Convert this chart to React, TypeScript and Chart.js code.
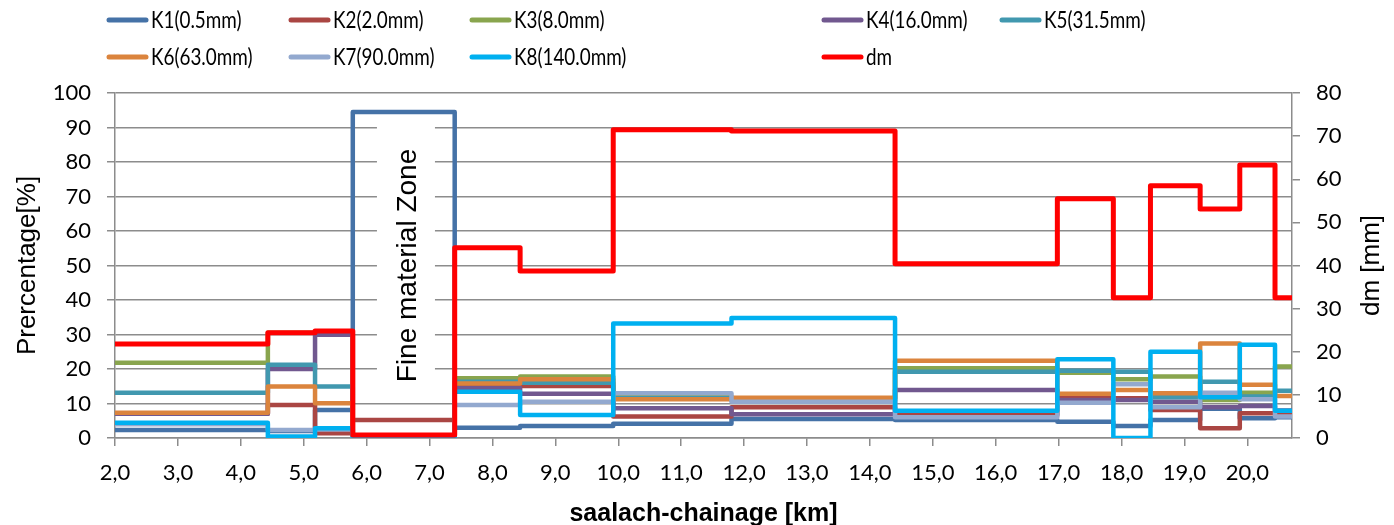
import React, { useEffect, useRef } from "react";
import { Chart, registerables } from "chart.js";

Chart.register(...registerables);

// segment start positions along the river [km]; the last entry is the end of the chart
const breaks = [2.0, 4.43, 5.18, 5.78, 7.4, 8.44, 9.92, 11.8, 14.4, 16.98, 17.87, 18.46, 19.25, 19.88, 20.44, 20.71];

const k1 = [2.3, 2.0, 8.1, 94.5, 3.0, 3.5, 4.1, 5.5, 5.2, 4.7, 3.5, 5.2, 8.5, 5.7, 6.0];
const k2 = [7.0, 9.6, 1.4, 5.2, 15.1, 15.1, 6.2, 8.9, 6.7, 11.5, 11.5, 8.1, 2.8, 7.2, 7.2];
const k3 = [21.8, 30.5, 30.3, 0, 17.3, 17.8, 12.0, 11.4, 20.2, 18.9, 17.0, 17.8, 11.0, 13.1, 20.7];
const k4 = [7.0, 20.0, 29.9, 0, 14.5, 12.8, 8.6, 6.9, 13.9, 11.0, 11.0, 10.5, 8.9, 9.3, 8.0];
const k5 = [13.1, 21.2, 14.9, 0, 16.3, 16.0, 11.5, 10.8, 19.2, 19.5, 19.2, 11.8, 16.3, 12.0, 13.7];
const k6 = [7.3, 14.9, 10.1, 0, 15.8, 17.0, 11.2, 11.7, 22.4, 12.8, 13.9, 13.0, 27.4, 15.4, 12.2];
const k7 = [4.0, 2.3, 2.5, 0, 9.6, 10.5, 13.0, 10.5, 6.0, 10.2, 15.6, 8.9, 13.1, 11.2, 6.2];
const k8 = [4.4, 0.4, 2.8, 0, 13.4, 6.7, 33.2, 34.8, 7.9, 22.8, 0, 25.0, 11.8, 27.0, 7.9];
const dm = [21.8, 24.4, 24.8, 0.7, 44.1, 38.7, 71.5, 71.2, 40.4, 55.5, 32.5, 58.5, 53.1, 63.3, 32.5];

const seriesNames = ["K1(0.5mm)", "K2(2.0mm)", "K3(8.0mm)", "K4(16.0mm)", "K5(31.5mm)", "K6(63.0mm)", "K7(90.0mm)", "K8(140.0mm)", "dm"];
const seriesValues = [k1, k2, k3, k4, k5, k6, k7, k8, dm];
const seriesColors = ["#4572A7", "#AA4643", "#89A54E", "#71588F", "#4198AF", "#DB843D", "#93A9CF", "#00B0F0", "#FF0000"];

const xMin = 2.0;
const xMax = 20.71;
const xTickValues = [2, 3, 4, 5, 6, 7, 8, 9, 10, 11, 12, 13, 14, 15, 16, 17, 18, 19, 20];
const leftMax = 100;
const rightMax = 80;

const xTitle = "saalach-chainage [km]";
const yTitle = "Prercentage[%]";
const y1Title = "dm [mm]";
const zoneLabel = "Fine material Zone";

const tickFont = "Lato, 'Noto Sans', sans-serif";
const titleFont = "'Liberation Sans', Arial, sans-serif";
const gridColor = "#8c8c8c";

function toPoints(vals: number[]) {
  const pts = vals.map((v, i) => ({ x: breaks[i], y: v }));
  pts.push({ x: breaks[breaks.length - 1], y: vals[vals.length - 1] });
  return pts;
}

const decorPlugin = {
  id: "decor",
  beforeDatasetsDraw(chart: any) {
    const { ctx, scales } = chart;
    const x = scales.x;
    const y = scales.y;
    const cx = (x.getPixelForValue(6.3) + x.getPixelForValue(6.95)) / 2;
    const top = y.getPixelForValue(92);
    const bottom = y.getPixelForValue(14);
    ctx.save();
    ctx.fillStyle = "#ffffff";
    ctx.fillRect(cx - 29, top, 58, bottom - top);
    ctx.translate(cx + 2, (y.getPixelForValue(100) + y.getPixelForValue(0)) / 2);
    ctx.rotate(-Math.PI / 2);
    ctx.fillStyle = "#000000";
    ctx.font = `28px ${titleFont}`;
    ctx.textAlign = "center";
    ctx.textBaseline = "middle";
    ctx.fillText(zoneLabel, 0, 0);
    ctx.restore();
  },
  afterDraw(chart: any) {
    const { ctx, chartArea } = chart;
    const midY = (chartArea.top + chartArea.bottom) / 2;
    ctx.save();
    ctx.fillStyle = "#000000";
    ctx.textBaseline = "middle";
    ctx.textAlign = "center";
    // axis titles
    ctx.font = `26px ${titleFont}`;
    ctx.save();
    ctx.translate(28, midY);
    ctx.rotate(-Math.PI / 2);
    ctx.fillText(yTitle, 0, 0);
    ctx.restore();
    ctx.save();
    ctx.translate(1372, midY);
    ctx.rotate(-Math.PI / 2);
    ctx.fillText(y1Title, 0, 0);
    ctx.restore();
    ctx.font = `bold 25px ${titleFont}`;
    ctx.fillText(xTitle, (chartArea.left + chartArea.right) / 2, 514);

    // legend
    const cols = [107, 289, 470, 822, 1000];
    const rows = [20, 57];
    ctx.textAlign = "left";
    ctx.font = `23px ${tickFont}`;
    seriesNames.forEach((name, i) => {
      const r = i < 5 ? 0 : 1;
      const c = i < 5 ? i : i - 5;
      const lx = cols[c];
      const ly = rows[r];
      ctx.strokeStyle = seriesColors[i];
      ctx.lineWidth = 5;
      ctx.lineCap = "round";
      ctx.beginPath();
      ctx.moveTo(lx + 2, ly);
      ctx.lineTo(lx + 39, ly);
      ctx.stroke();
      ctx.save();
      ctx.translate(lx + 44, ly + 1);
      ctx.scale(0.82, 1);
      ctx.fillText(name, 0, 0);
      ctx.restore();
    });
    ctx.restore();
  },
};

export default function App() {
  const ref = useRef<HTMLCanvasElement | null>(null);

  useEffect(() => {
    if (!ref.current) return;
    const datasets = seriesValues.map((vals, i) => ({
      label: seriesNames[i],
      data: toPoints(vals),
      borderColor: seriesColors[i],
      backgroundColor: seriesColors[i],
      borderWidth: i === 8 ? 5 : 4.5,
      pointRadius: 0,
      stepped: "before" as const,
      fill: false,
      borderJoinStyle: "round" as const,
      yAxisID: i === 8 ? "y1" : "y",
      order: 20 - i,
    }));

    const chart = new Chart(ref.current, {
      type: "line",
      data: { datasets },
      plugins: [decorPlugin],
      options: {
        animation: false,
        responsive: false,
        layout: { padding: { top: 93, left: 0, right: 0, bottom: 0 } },
        plugins: { legend: { display: false }, tooltip: { enabled: false } },
        scales: {
          x: {
            type: "linear",
            min: xMin,
            max: xMax,
            afterBuildTicks: (s: any) => {
              s.ticks = xTickValues.map((v) => ({ value: v }));
            },
            afterFit: (s: any) => {
              s.height = 87;
            },
            ticks: {
              autoSkip: false,
              maxRotation: 0,
              padding: 14,
              color: "#000",
              font: { family: tickFont, size: 22 },
              callback: (v: any) => Number(v).toFixed(1).replace(".", ","),
            },
            grid: { drawOnChartArea: false, tickLength: 8, color: gridColor, lineWidth: 1.5 },
            border: { color: gridColor, width: 1.5 },
          },
          y: {
            position: "left",
            min: 0,
            max: leftMax,
            afterFit: (s: any) => {
              s.width = 115;
            },
            ticks: {
              stepSize: 10,
              padding: 16,
              color: "#000",
              font: { family: tickFont, size: 22 },
            },
            grid: { tickLength: 8, color: gridColor, lineWidth: 1.5 },
            border: { color: gridColor, width: 1.5 },
          },
          y1: {
            position: "right",
            min: 0,
            max: rightMax,
            afterFit: (s: any) => {
              s.width = 102;
            },
            ticks: {
              stepSize: 10,
              padding: 16,
              color: "#000",
              font: { family: tickFont, size: 22 },
            },
            grid: { drawOnChartArea: false, tickLength: 8, color: gridColor, lineWidth: 1.5 },
            border: { color: gridColor, width: 1.5 },
          },
        },
      },
    } as any);
    return () => chart.destroy();
  }, []);

  return (
    <div style={{ position: "absolute", left: 0, top: 0, width: 1394, height: 525, background: "#fff" }}>
      <canvas ref={ref} width={1394} height={525} />
    </div>
  );
}
